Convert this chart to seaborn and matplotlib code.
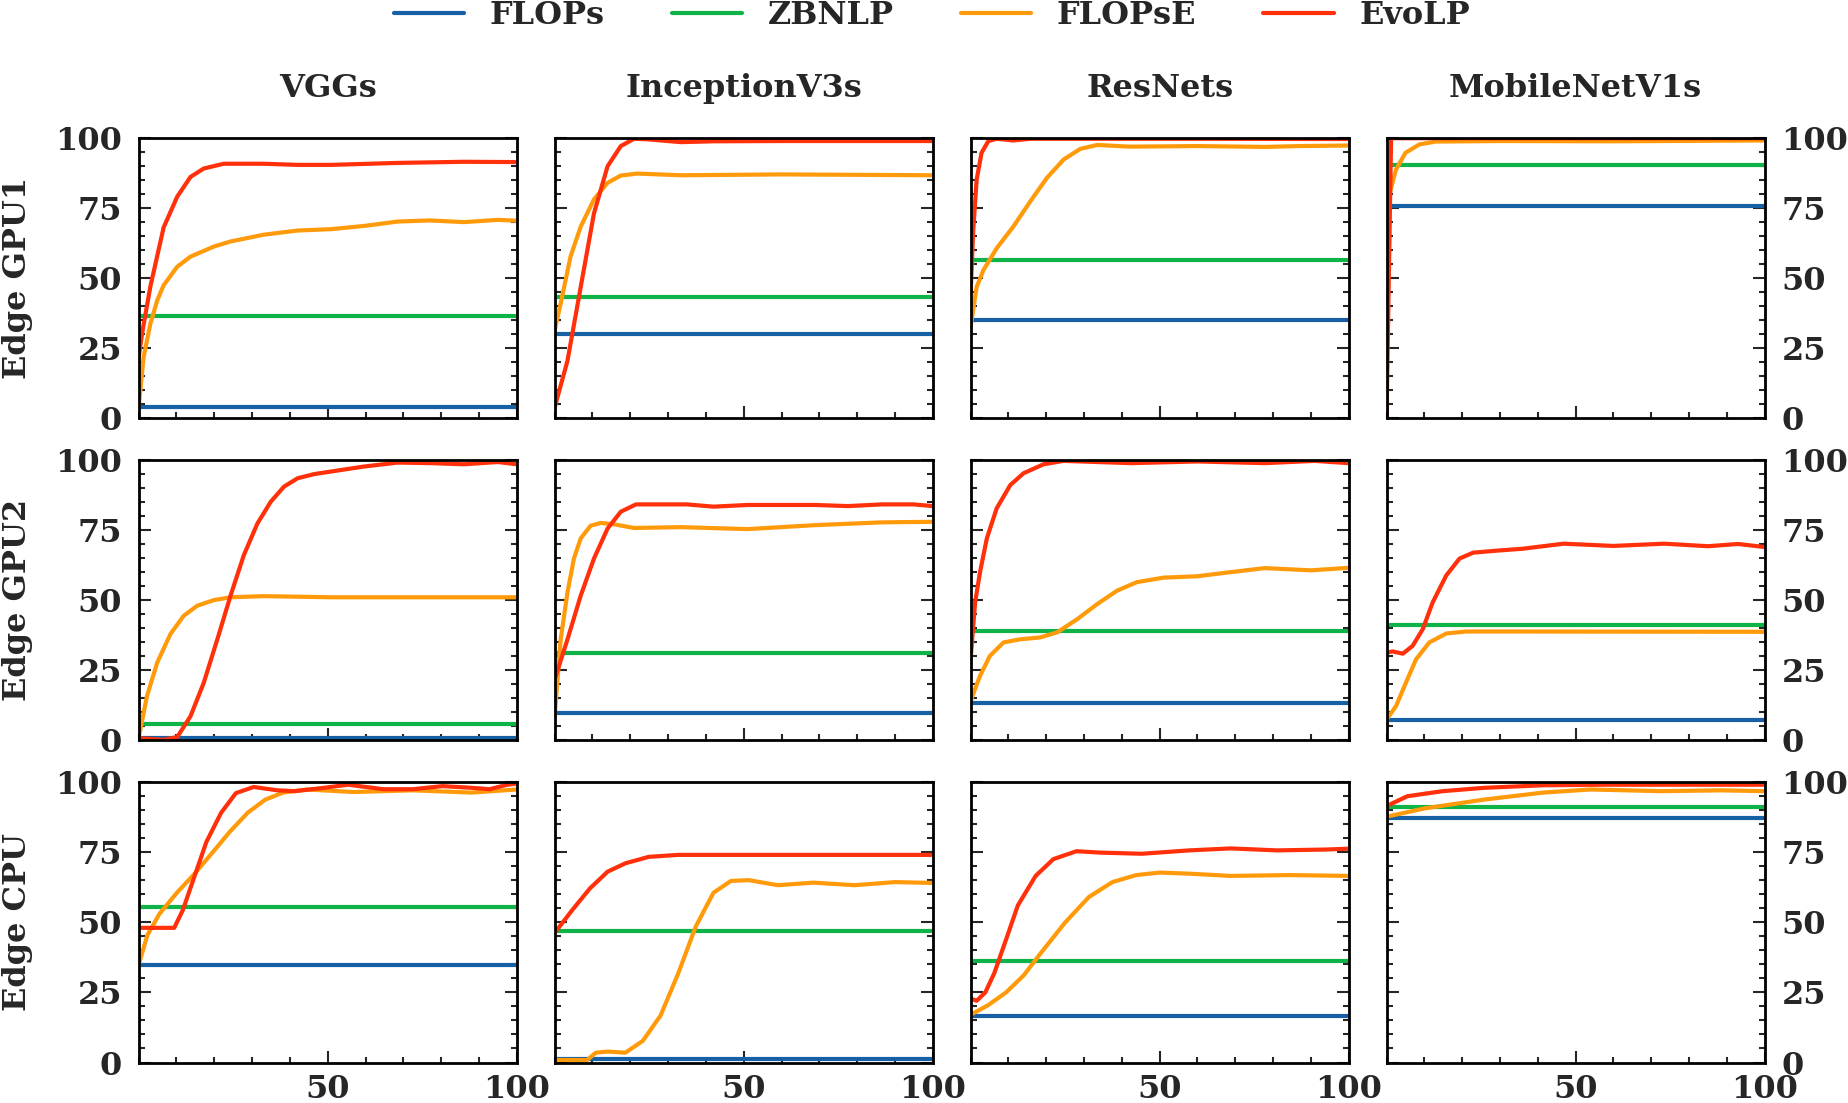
import matplotlib
matplotlib.use('Agg')
import matplotlib.pyplot as plt
from matplotlib.ticker import MultipleLocator
import pandas as pd
import seaborn as sns

models = ['VGGs', 'InceptionV3s', 'ResNets', 'MobileNetV1s']
devices = ['Edge GPU1', 'Edge GPU2', 'Edge CPU']
methods = ['FLOPs', 'ZBNLP', 'FLOPsE', 'EvoLP']
colors = ['#1660a6', '#10b348', '#ff9a0a', '#ff300a']

# flat baselines, one value per model column
flops_gpu1 = [4, 30.1, 34.9, 75.7]
zbnlp_gpu1 = [36.4, 43.2, 56.4, 90.4]
flops_gpu2 = [0.8, 9.8, 13.4, 7.4]
zbnlp_gpu2 = [6, 31.3, 39.1, 41.2]
flops_cpu = [34.7, 1.2, 16.7, 87.3]
zbnlp_cpu = [55.5, 46.9, 36.2, 91.1]

# ---- Edge GPU1 ----
vgg_gpu1_fe_x = [0, 1.3, 3.1, 4.9, 6.6, 10.2, 13.7, 19.9, 24.3, 33, 42, 51, 60, 68.5, 77, 86, 95, 100]
vgg_gpu1_fe_y = [4, 21.7, 33.7, 42, 47.4, 54, 57.6, 61.2, 63, 65.4, 66.9, 67.4, 68.6, 70.1, 70.5, 69.9, 70.7, 70.4]
vgg_gpu1_evo_x = [0, 1, 3.1, 6.6, 10.2, 13.7, 17.2, 22.5, 33, 42, 51, 68.5, 86, 100]
vgg_gpu1_evo_y = [21.7, 31, 47, 68, 79, 86, 89, 90.7, 90.7, 90.3, 90.3, 91, 91.4, 91.3]

inc_gpu1_fe_x = [0, 1.6, 4.2, 6.9, 10.4, 14, 17.5, 21.9, 33.4, 60, 100]
inc_gpu1_fe_y = [31.3, 40.9, 57.6, 68.3, 78, 83.9, 86.5, 87.2, 86.6, 86.9, 86.6]
inc_gpu1_evo_x = [0, 3.4, 6.9, 10.4, 14, 17.5, 21, 24.6, 33.4, 42, 60, 86.5, 100]
inc_gpu1_evo_y = [3.8, 20.5, 46.8, 73, 89.8, 97, 99.6, 99.4, 98.4, 98.7, 98.8, 98.8, 98.8]

res_gpu1_fe_x = [0, 1.6, 3.4, 6.9, 11.3, 15.8, 20.2, 24.6, 29, 33.5, 42, 60, 78, 86.7, 100]
res_gpu1_fe_y = [32.5, 46.8, 52.8, 60.6, 68.3, 77.3, 85.7, 92.2, 96, 97.4, 96.8, 97, 96.7, 97, 97.2]
res_gpu1_evo_x = [0, 0.7, 1.6, 2.9, 4.7, 6.9, 11.3, 15.8, 30, 60, 100]
res_gpu1_evo_y = [44.4, 67, 85, 94.6, 98.8, 99.6, 99, 99.6, 99.6, 99.6, 99.5]

mob_gpu1_fe_x = [0, 0.7, 2.5, 5, 8.7, 13, 30, 60, 100]
mob_gpu1_fe_y = [77, 79.7, 88.6, 94.6, 97.6, 98.6, 98.8, 98.7, 99]
mob_gpu1_evo_x = [0, 1.2, 100]
mob_gpu1_evo_y = [0, 99.8, 99.8]

# ---- Edge GPU2 ----
vgg_gpu2_fe_x = [0, 2.2, 4.9, 8.4, 11.9, 15.5, 19.9, 24.3, 33, 51, 100]
vgg_gpu2_fe_y = [0.8, 15.8, 27.7, 37.9, 44.4, 48, 50, 51, 51.4, 51, 51]
vgg_gpu2_evo_x = [0, 3.1, 6.6, 10.2, 13.7, 17.2, 20.8, 24.3, 27.8, 31.4, 34.9, 38.4, 42, 46.4, 50.8, 59.6, 68.5, 77.3, 86, 95, 100]
vgg_gpu2_evo_y = [0.8, 0.5, 0.2, 1.2, 8.6, 20.5, 36, 51.6, 66, 77.3, 85, 90.4, 93.4, 94.9, 95.8, 97.6, 99, 98.8, 98.4, 99.2, 98.4]

inc_gpu2_fe_x = [0, 1.6, 3.4, 5.1, 6.9, 9.5, 12.2, 15.7, 21, 33.4, 51, 68.8, 86.5, 100]
inc_gpu2_fe_y = [8.6, 36, 52.8, 64.8, 72, 76.5, 77.5, 77, 75.7, 76, 75.3, 76.7, 77.7, 77.9]
inc_gpu2_evo_x = [0, 3.4, 6.9, 10.4, 14, 17.5, 21.5, 35, 42, 51, 68.8, 77.6, 86.5, 95, 100]
inc_gpu2_evo_y = [21.7, 36, 51.6, 64.8, 75.5, 81.5, 84.1, 84.1, 83.3, 83.9, 83.9, 83.5, 84.1, 84.1, 83.5]

res_gpu2_fe_x = [0, 2.5, 5.1, 8.7, 13, 18.4, 22.9, 28.2, 33.5, 38.8, 44, 51, 60, 69, 77.8, 90, 100]
res_gpu2_fe_y = [14, 23, 30.1, 34.9, 36, 36.7, 38.5, 43.2, 48.6, 53.4, 56.4, 58, 58.5, 60, 61.4, 60.6, 61.5]
res_gpu2_evo_x = [0, 1.2, 2.5, 4.3, 6.9, 10.5, 14, 19.3, 24.6, 42.4, 60, 77.8, 91, 100]
res_gpu2_evo_y = [28.9, 49.2, 60, 72, 82.7, 91, 95.2, 98.4, 99.6, 98.8, 99.4, 98.8, 99.6, 98.8]

mob_gpu2_fe_x = [0, 2.5, 5.1, 7.8, 11.3, 15.8, 21, 33.5, 100]
mob_gpu2_fe_y = [7.4, 12.2, 20.5, 28.9, 34.9, 38.1, 38.8, 38.8, 38.7]
mob_gpu2_evo_x = [0, 1.6, 4.3, 6.9, 9.6, 12.2, 15.8, 19.3, 22.9, 29, 36, 46.8, 60, 73.4, 85, 93, 100]
mob_gpu2_evo_y = [31.3, 31.7, 30.9, 33.7, 39.7, 49.2, 58.8, 64.8, 66.9, 67.6, 68.3, 70.1, 69.3, 70.1, 69.2, 70, 68.9]

# ---- Edge CPU ----
vgg_cpu_fe_x = [0, 2.3, 5.5, 10.1, 14.8, 19.5, 24.2, 28.9, 33.5, 38.2, 44.5, 56.9, 72.5, 88, 100]
vgg_cpu_fe_y = [34.8, 45.4, 53, 60.5, 67.3, 74.8, 82.4, 89.1, 93.7, 96.2, 97.3, 96.4, 97, 96.2, 97.3]
vgg_cpu_evo_x = [0, 9.4, 11.7, 14.8, 17.9, 21.8, 25.7, 30.4, 36.7, 41.3, 49, 55.4, 64.7, 72.5, 80.3, 88, 92.8, 97.5, 100]
vgg_cpu_evo_y = [48, 48, 54.4, 66.5, 78.6, 89, 96, 98.2, 97, 96.7, 97.9, 99, 97.4, 97.4, 98.5, 97.9, 97.4, 99, 99.4]

inc_cpu_fe_x = [0, 8.6, 10.9, 14, 18.7, 23.3, 28, 32.7, 37.3, 42, 46.6, 51.3, 59, 68.4, 79.3, 90, 100]
inc_cpu_fe_y = [0.9, 0.9, 3.5, 3.9, 3.5, 7.7, 16.7, 31.8, 48.4, 60.5, 64.7, 65, 63.2, 64.1, 63.2, 64.3, 64]
inc_cpu_evo_x = [0, 4.7, 9.3, 14, 18.7, 24.9, 32.7, 100]
inc_cpu_evo_y = [46.2, 54.4, 62, 68, 71, 73.3, 74, 74]

res_cpu_fe_x = [0, 4.7, 9.4, 14, 18.8, 25, 31.3, 37.5, 43.8, 50, 57.8, 68.8, 84.4, 100]
res_cpu_fe_y = [17, 20.5, 25, 31, 39.4, 49.9, 59, 64.3, 66.8, 67.7, 67.3, 66.5, 66.8, 66.5]
res_cpu_evo_x = [0, 1.6, 3.9, 6.25, 9.4, 12.5, 17.2, 21.9, 28, 34.4, 45.3, 57.8, 68.8, 81, 93.8, 100]
res_cpu_evo_y = [22.8, 22, 25, 31.8, 43.9, 56, 66.5, 72.5, 75.3, 74.8, 74.4, 75.6, 76.3, 75.6, 75.9, 76.2]

mob_cpu_fe_x = [0, 10.2, 25.8, 41.4, 53.9, 72.7, 88.3, 100]
mob_cpu_fe_y = [87.6, 90.6, 93.7, 96.2, 97.3, 96.7, 97, 96.7]
mob_cpu_evo_x = [0, 5.5, 14.8, 25.8, 41.4, 57, 100]
mob_cpu_evo_y = [91.4, 94.9, 96.7, 97.9, 98.8, 99, 99]

curves = [
    [(vgg_gpu1_fe_x, vgg_gpu1_fe_y, vgg_gpu1_evo_x, vgg_gpu1_evo_y),
     (inc_gpu1_fe_x, inc_gpu1_fe_y, inc_gpu1_evo_x, inc_gpu1_evo_y),
     (res_gpu1_fe_x, res_gpu1_fe_y, res_gpu1_evo_x, res_gpu1_evo_y),
     (mob_gpu1_fe_x, mob_gpu1_fe_y, mob_gpu1_evo_x, mob_gpu1_evo_y)],
    [(vgg_gpu2_fe_x, vgg_gpu2_fe_y, vgg_gpu2_evo_x, vgg_gpu2_evo_y),
     (inc_gpu2_fe_x, inc_gpu2_fe_y, inc_gpu2_evo_x, inc_gpu2_evo_y),
     (res_gpu2_fe_x, res_gpu2_fe_y, res_gpu2_evo_x, res_gpu2_evo_y),
     (mob_gpu2_fe_x, mob_gpu2_fe_y, mob_gpu2_evo_x, mob_gpu2_evo_y)],
    [(vgg_cpu_fe_x, vgg_cpu_fe_y, vgg_cpu_evo_x, vgg_cpu_evo_y),
     (inc_cpu_fe_x, inc_cpu_fe_y, inc_cpu_evo_x, inc_cpu_evo_y),
     (res_cpu_fe_x, res_cpu_fe_y, res_cpu_evo_x, res_cpu_evo_y),
     (mob_cpu_fe_x, mob_cpu_fe_y, mob_cpu_evo_x, mob_cpu_evo_y)],
]
flops_rows = [flops_gpu1, flops_gpu2, flops_cpu]
zbnlp_rows = [zbnlp_gpu1, zbnlp_gpu2, zbnlp_cpu]

sns.set_style('ticks')
plt.rcParams.update({
    'font.family': ['DejaVu Serif'],
    'font.weight': 'bold',
    'axes.titleweight': 'bold',
    'axes.labelweight': 'bold',
    'axes.linewidth': 2,
    'axes.edgecolor': 'black',
    'lines.solid_capstyle': 'round',
    'lines.solid_joinstyle': 'round',
})

palette = dict(zip(methods, colors))


def panel_frame(flops, zbnlp, fe_x, fe_y, evo_x, evo_y):
    parts = [
        pd.DataFrame({'x': [0, 100], 'y': [flops, flops], 'method': 'FLOPs'}),
        pd.DataFrame({'x': [0, 100], 'y': [zbnlp, zbnlp], 'method': 'ZBNLP'}),
        pd.DataFrame({'x': fe_x, 'y': fe_y, 'method': 'FLOPsE'}),
        pd.DataFrame({'x': evo_x, 'y': evo_y, 'method': 'EvoLP'}),
    ]
    return pd.concat(parts, ignore_index=True)


fig, axes = plt.subplots(3, 4, figsize=(18.49, 11.03), dpi=100)
fig.subplots_adjust(left=0.075, right=0.9544, top=0.8752, bottom=0.0367,
                    wspace=0.1, hspace=0.148)

for r in range(3):
    for c in range(4):
        ax = axes[r, c]
        fe_x, fe_y, evo_x, evo_y = curves[r][c]
        df = panel_frame(flops_rows[r][c], zbnlp_rows[r][c], fe_x, fe_y, evo_x, evo_y)
        sns.lineplot(data=df, x='x', y='y', hue='method', hue_order=methods,
                     palette=palette, linewidth=3.0, ax=ax,
                     legend=(r == 0 and c == 0), sort=True, estimator=None)
        ax.set_xlim(0, 100)
        ax.set_ylim(0, 100)
        ax.set_xticks([50, 100])
        ax.set_yticks([0, 25, 50, 75, 100])
        ax.xaxis.set_minor_locator(MultipleLocator(10))
        ax.yaxis.set_minor_locator(MultipleLocator(5))
        ax.tick_params(which='both', direction='in', left=True, right=True,
                       top=False, bottom=True, width=1.5)
        ax.tick_params(which='major', length=8.5, labelsize=23)
        ax.tick_params(axis='y', which='major', pad=12)
        ax.tick_params(axis='x', which='major', pad=8)
        ax.tick_params(which='minor', length=4)
        ax.tick_params(labelbottom=(r == 2), labelleft=(c == 0), labelright=(c == 3))
        ax.set_xlabel('')
        ax.set_ylabel('')
        if c == 0:
            ax.set_ylabel(devices[r], fontsize=23)
            ax.yaxis.set_label_coords(-0.28, 0.5)
        if r == 0:
            ax.set_title(models[c], fontsize=23, pad=29)

handles, labels = axes[0, 0].get_legend_handles_labels()
axes[0, 0].get_legend().remove()
fig.legend(handles, labels, loc='center', bbox_to_anchor=(0.504, 0.986), ncol=4,
           frameon=False, fontsize=23, handlelength=2.2, handletextpad=0.8,
           columnspacing=2.1)

fig.savefig('out.png', dpi=100)
